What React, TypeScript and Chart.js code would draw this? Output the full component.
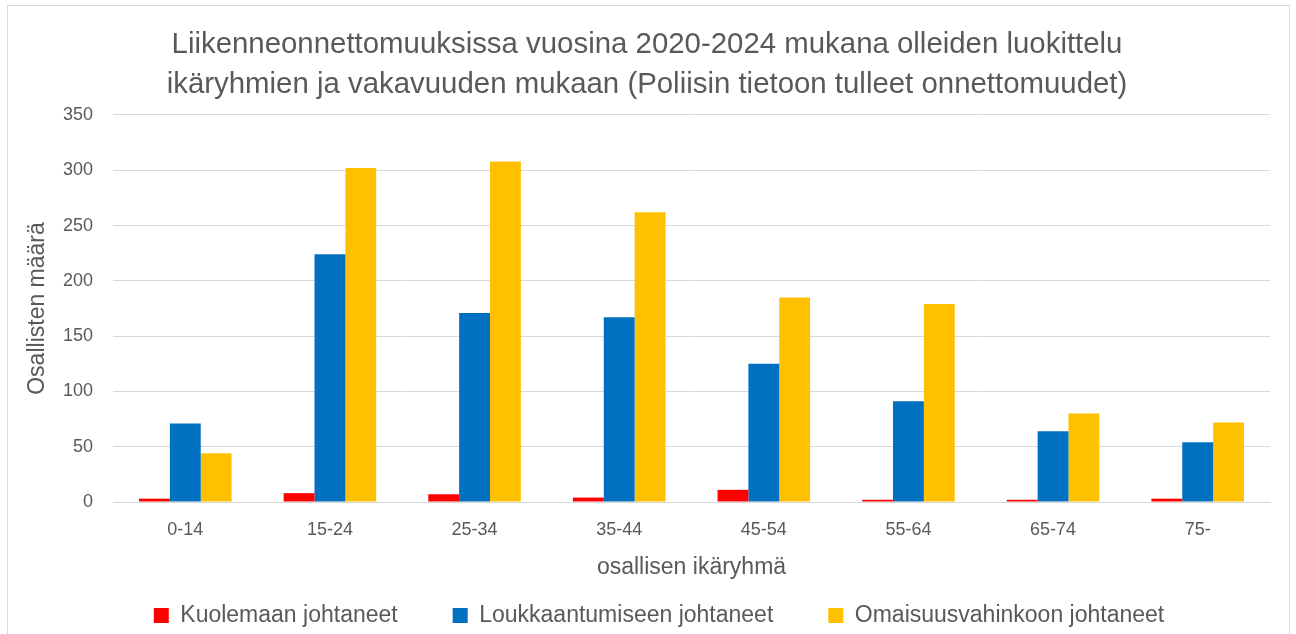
import React, { useEffect, useRef } from "react";
import { Chart, registerables } from "chart.js";

Chart.register(...registerables);

const categories = ["0-14", "15-24", "25-34", "35-44", "45-54", "55-64", "65-74", "75-"];
const kuolemaan = [3, 8, 7, 4, 11, 2, 2, 3];
const loukkaantumiseen = [71, 224, 171, 167, 125, 91, 64, 54];
const omaisuusvahinkoon = [44, 302, 308, 262, 185, 179, 80, 72];
const seriesNames = ["Kuolemaan johtaneet", "Loukkaantumiseen johtaneet", "Omaisuusvahinkoon johtaneet"];
const titleLines = [
  "Liikenneonnettomuuksissa vuosina 2020-2024 mukana olleiden luokittelu",
  "ikäryhmien ja vakavuuden mukaan (Poliisin tietoon tulleet onnettomuudet)",
];
const yTicksMax = 350;
const yTickStep = 50;

const FONT = "'Liberation Sans', Arial, sans-serif";
const GREY = "#595959";

const legendShift = {
  id: "legendShift",
  afterLayout(chart: any) {
    const lg = chart.legend;
    if (lg) {
      lg.left += 12;
      lg.right += 12;
    }
  },
};

export default function App() {
  const ref = useRef<HTMLCanvasElement | null>(null);
  useEffect(() => {
    document.body.style.margin = "0";
    const ctx = ref.current!;
    const chart = new Chart(ctx, {
      type: "bar",
      data: {
        labels: categories,
        datasets: [
          { label: seriesNames[0], data: kuolemaan, backgroundColor: "#FF0000" },
          { label: seriesNames[1], data: loukkaantumiseen, backgroundColor: "#0070C0" },
          { label: seriesNames[2], data: omaisuusvahinkoon, backgroundColor: "#FFC000" },
        ],
      },
      plugins: [legendShift],
      options: {
        animation: false,
        responsive: false,
        maintainAspectRatio: false,
        layout: { padding: { left: 24, right: 26, top: 25, bottom: -3 } },
        datasets: { bar: { categoryPercentage: 0.64, barPercentage: 1.0 } },
        plugins: {
          title: {
            display: true,
            text: titleLines,
            color: GREY,
            font: { family: FONT, size: 29.4, weight: "normal", lineHeight: 1.36 },
            padding: { top: 0, bottom: 10 },
          },
          legend: {
            position: "bottom",
            labels: {
              color: GREY,
              font: { family: FONT, size: 23 },
              boxWidth: 15,
              boxHeight: 15,
              padding: 55,
            },
          },
          tooltip: { enabled: false },
        },
        scales: {
          x: {
            grid: { display: false, drawTicks: false },
            border: { display: true, color: "#d9d9d9", width: 1 },
            ticks: { color: GREY, font: { family: FONT, size: 18 }, padding: 17 },
            title: {
              display: true,
              text: "osallisen ikäryhmä",
              color: GREY,
              font: { family: FONT, size: 23 },
              padding: { top: 0, bottom: -32 },
            },
            afterFit(axis: any) {
              axis.height = 47;
            },
          },
          y: {
            min: 0,
            max: yTicksMax,
            ticks: { stepSize: yTickStep, color: GREY, font: { family: FONT, size: 18 }, padding: 20 },
            grid: { color: "#d9d9d9", drawTicks: false },
            border: { display: false },
            title: {
              display: true,
              text: "Osallisten määrä",
              color: GREY,
              font: { family: FONT, size: 23 },
              padding: { top: 0, bottom: 0 },
            },
            afterFit(axis: any) {
              axis.width = 89;
            },
          },
        },
      },
    });
    return () => chart.destroy();
  }, []);
  return (
    <div style={{ position: "relative", width: 1296, height: 634, overflow: "hidden", background: "#fff" }}>
      <div
        style={{
          position: "absolute",
          left: 7,
          top: 5,
          width: 1283,
          height: 660,
          border: "1px solid #d9d9d9",
          boxSizing: "border-box",
        }}
      />
      <canvas ref={ref} width={1296} height={634} style={{ position: "absolute", left: 0, top: 0 }} />
    </div>
  );
}
